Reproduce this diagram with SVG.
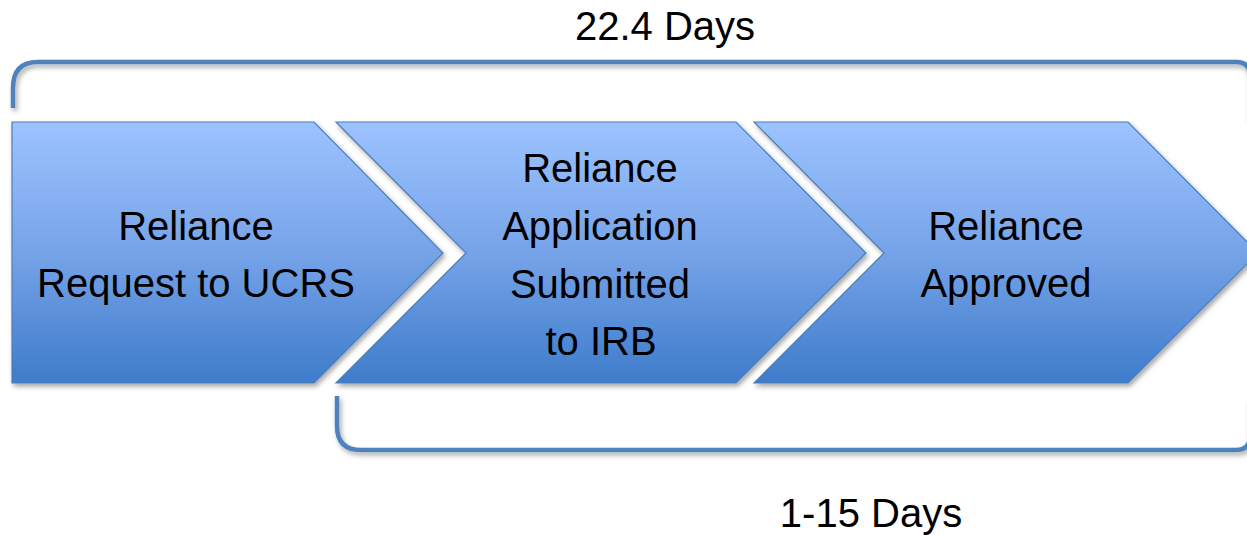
<svg xmlns="http://www.w3.org/2000/svg" width="1247" height="535" viewBox="0 0 1247 535">
  <defs>
    <linearGradient id="fillGrad" gradientUnits="userSpaceOnUse" x1="0" y1="122" x2="0" y2="383">
      <stop offset="0" stop-color="#9DC3FF"/>
      <stop offset="0.5" stop-color="#76A3E8"/>
      <stop offset="1" stop-color="#3E7CCB"/>
    </linearGradient>
    <filter id="shadow" x="-10%" y="-10%" width="120%" height="130%">
      <feDropShadow dx="2" dy="3" stdDeviation="2.5" flood-color="#000" flood-opacity="0.35"/>
    </filter>
  </defs>
  <style>
    .chev { fill: url(#fillGrad); stroke: #4A7EBB; stroke-width: 1.2; filter: url(#shadow); }
    .bracket { fill: none; stroke: #4F81BD; stroke-width: 4.5; filter: url(#shadow); }
    .lbl { font-family: "Liberation Sans", Arial, sans-serif; font-size: 40px; fill: #000; text-anchor: middle; }
  </style>
  <rect width="1247" height="535" fill="#fff"/>
  <g id="connectors">
    <path class="bracket" d="M13,108 V88 Q13,62 38,62 H1236 Q1250,62 1250,76 V120"/>
    <path class="bracket" d="M337,396 V426 Q337,450 361,450 H1236 Q1250,450 1250,436 V400"/>
  </g>
  <g id="node1">
    <polygon class="chev" points="12,122 314,122 443,253 314,383 12,383"/>
    <text class="lbl" x="196" y="240">Reliance</text>
    <text class="lbl" x="196" y="297">Request to UCRS</text>
  </g>
  <g id="node2">
    <polygon class="chev" points="336,122 736,122 866,253 736,383 336,383 466,253"/>
    <text class="lbl" x="600" y="182">Reliance</text>
    <text class="lbl" x="600" y="240">Application</text>
    <text class="lbl" x="600" y="298">Submitted</text>
    <text class="lbl" x="601" y="355">to IRB</text>
  </g>
  <g id="node3">
    <polygon class="chev" points="754,122 1128,122 1258,253 1128,383 754,383 884,253"/>
    <text class="lbl" x="1006" y="240">Reliance</text>
    <text class="lbl" x="1006" y="297">Approved</text>
  </g>
  <g id="labels">
    <text class="lbl" x="665" y="40">22.4 Days</text>
    <text class="lbl" x="871" y="527">1-15 Days</text>
  </g>
</svg>
